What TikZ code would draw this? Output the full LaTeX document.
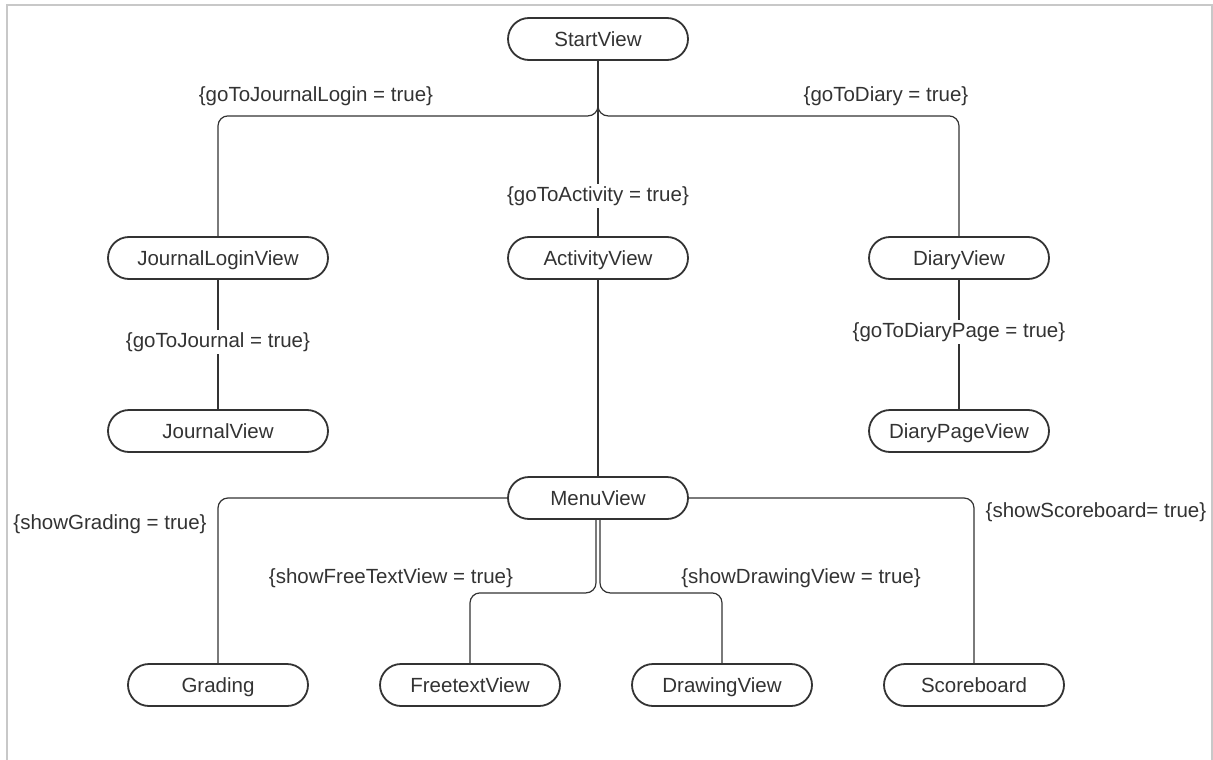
\documentclass[tikz,border=0pt]{standalone}
\usepackage{fontspec}
\setmainfont{Liberation Sans}
\definecolor{ink}{HTML}{333333}
\definecolor{frame}{HTML}{C8C8C8}
\begin{document}
\begin{tikzpicture}[x=1pt,y=-1pt,
  view/.style={draw=ink, line width=1.8pt, rounded corners=21pt,
    minimum width=180pt, minimum height=42pt, inner sep=0pt, fill=white,
    text=ink, text height=15pt, text depth=0pt,
    font=\fontsize{20.5}{24}\selectfont},
  cond/.style={fill=white, inner xsep=1pt, inner ysep=3pt, text=ink,
    text height=14.5pt, text depth=4pt,
    font=\fontsize{20.5}{24}\selectfont},
  link/.style={draw=ink, line width=1.2pt, rounded corners=10pt}]
\useasboundingbox (0,0) rectangle (1213,760);
\draw[frame, line width=2pt] (7,5) rectangle (1212,775);

% state nodes
\node[view] (start)   at (598,39)  {StartView};
\node[view, minimum width=220pt] (jlogin) at (218,258) {JournalLoginView};
\node[view] (activity) at (598,258) {ActivityView};
\node[view] (diary)   at (959,258) {DiaryView};
\node[view, minimum width=220pt] (journal) at (218,431) {JournalView};
\node[view] (diarypage) at (959,431) {DiaryPageView};
\node[view] (menu)    at (598,498) {MenuView};
\node[view] (grading) at (218,685) {Grading};
\node[view] (free)    at (470,685) {FreetextView};
\node[view] (drawing) at (722,685) {DrawingView};
\node[view] (score)   at (974,685) {Scoreboard};

% transitions
\draw[link] (start.south) -- ++(0,55) -| (jlogin.north);
\draw[link] (start.south) -- ++(0,55) -| (diary.north);
\draw[link] (start.south) -- (activity.north);
\draw[link] (jlogin.south) -- (journal.north);
\draw[link] (diary.south) -- (diarypage.north);
\draw[link] (activity.south) -- (menu.north);
\draw[link] (menu.west) -| (grading.north);
\draw[link] (menu.east) -| (score.north);
\draw[link] ([xshift=-2pt]menu.south) -- ++(0,73) -| (free.north);
\draw[link] ([xshift=2pt]menu.south) -- ++(0,73) -| (drawing.north);

% guard conditions
\node[cond] (cJL)  at (316,96)  {\{goToJournalLogin = true\}};
\node[cond] (cD)   at (886,96)  {\{goToDiary = true\}};
\node[cond] (cA)   at (598,196) {\{goToActivity = true\}};
\node[cond] (cJ)   at (218,342) {\{goToJournal = true\}};
\node[cond] (cDP)  at (959,332) {\{goToDiaryPage = true\}};
\node[cond] (cG)   at (110,524) {\{showGrading = true\}};
\node[cond] (cS)   at (1096,512) {\{showScoreboard= true\}};
\node[cond] (cF)   at (391,578) {\{showFreeTextView = true\}};
\node[cond] (cDr)  at (801,578) {\{showDrawingView = true\}};
\end{tikzpicture}
\end{document}
